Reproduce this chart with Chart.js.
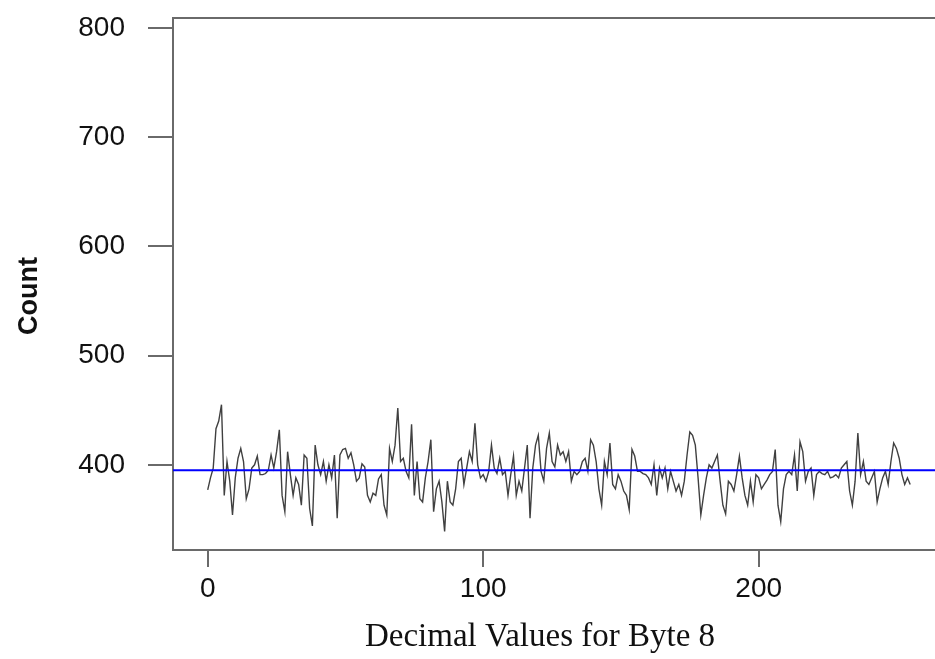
<!DOCTYPE html>
<html>
<head>
<meta charset="utf-8">
<script src="https://cdn.jsdelivr.net/npm/chart.js@4/dist/chart.umd.min.js"></script>
<style>
  html, body { margin: 0; padding: 0; background: #ffffff; }
  #c { display: block; }
</style>
</head>
<body>
<canvas id="c" width="935" height="659"></canvas>
<script>
// ---- data ----
const counts = [
  377,388,397,433,440,455,372,403,385,354,388,406,415,403,369,378,
  397,400,408,391,391,392,395,409,397,412,432,372,357,412,391,372,
  388,382,363,409,406,360,344,418,400,391,403,385,400,388,409,351,
  409,414,415,406,411,400,385,388,401,398,372,366,374,372,387,391,
  363,354,415,403,418,452,403,406,394,388,437,372,403,369,366,388,
  403,423,357,378,385,366,339,385,366,363,378,403,406,382,397,412,
  403,438,400,388,391,385,394,418,397,392,406,391,394,372,391,408,
  372,385,376,397,418,351,397,418,427,394,385,415,429,403,398,418,
  409,412,403,412,385,394,391,394,403,406,394,423,418,403,378,363,
  403,391,420,382,378,391,385,376,372,359,414,408,394,394,392,391,
  388,382,400,372,397,388,397,378,394,385,376,382,372,385,409,430,
  427,418,388,354,372,388,400,397,403,409,385,363,355,385,382,376,
  391,408,388,372,363,385,366,391,388,378,382,386,391,394,414,363,
  348,378,391,394,391,409,376,421,412,385,394,397,372,391,394,392,
  391,394,388,389,391,388,397,400,403,376,363,385,429,391,403,385,
  382,388,394,366,378,388,394,382,403,420,415,406,391,382,388,382
];
const meanCount = 395;
const xTicks = [0, 100, 200];
const yTicks = [400, 500, 600, 700, 800];
const xTitle = "Decimal Values for Byte 8";
const yTitle = "Count";

// ---- build datasets from the arrays ----
const linePoints = counts.map((v, i) => ({ x: i, y: v }));
const xMin = -12.6, xMax = 264;
const meanPoints = [{ x: xMin, y: meanCount }, { x: xMax, y: meanCount }];

const axisColor = '#6a6a6a';
const tickFont = { family: "'Liberation Sans', Arial, sans-serif", size: 28 };

const titlesPlugin = {
  id: 'titles',
  afterDraw(chart) {
    const ctx = chart.ctx;
    ctx.save();
    ctx.fillStyle = '#111';
    ctx.textAlign = 'center';
    ctx.textBaseline = 'middle';
    ctx.font = "33px 'Liberation Serif', 'Times New Roman', serif";
    ctx.fillText(xTitle, 540, 637);
    ctx.translate(30, 296);
    ctx.rotate(-Math.PI / 2);
    ctx.font = "bold 27px 'Liberation Sans', Arial, sans-serif";
    ctx.fillText(yTitle, 0, 0);
    ctx.restore();
  }
};

function noPad(s) {
  s.paddingTop = 0; s.paddingBottom = 0; s.paddingLeft = 0; s.paddingRight = 0;
}

new Chart(document.getElementById('c'), {
  type: 'line',
  data: {
    datasets: [
      {
        data: linePoints,
        borderColor: '#404040',
        borderWidth: 1.4,
        pointRadius: 0,
        tension: 0,
        xAxisID: 'x',
        yAxisID: 'y',
        order: 2
      },
      {
        data: meanPoints,
        borderColor: '#0000ff',
        borderWidth: 2,
        pointRadius: 0,
        tension: 0,
        xAxisID: 'x',
        yAxisID: 'y',
        order: 1
      }
    ]
  },
  options: {
    responsive: false,
    devicePixelRatio: 1,
    animation: false,
    layout: { padding: 0 },
    plugins: {
      legend: { display: false },
      tooltip: { enabled: false }
    },
    scales: {
      x: {
        type: 'linear',
        position: 'bottom',
        min: xMin,
        max: xMax,
        afterBuildTicks: (s) => { s.ticks = xTicks.map(v => ({ value: v })); },
        afterFit: (s) => { s.height = 109; noPad(s); },
        ticks: {
          font: tickFont,
          color: '#111',
          padding: 5,
          maxRotation: 0,
          autoSkip: false
        },
        grid: {
          drawOnChartArea: false,
          drawTicks: true,
          tickLength: 17,
          tickColor: axisColor,
          tickWidth: 2,
          lineWidth: 2,
          color: axisColor
        },
        border: { display: true, color: axisColor, width: 2 }
      },
      xTop: {
        type: 'linear',
        position: 'top',
        afterFit: (s) => { s.height = 18; noPad(s); },
        ticks: { display: false },
        grid: { display: false, drawTicks: false },
        border: { display: true, color: axisColor, width: 2 }
      },
      y: {
        type: 'linear',
        position: 'left',
        min: 322,
        max: 809,
        afterBuildTicks: (s) => { s.ticks = yTicks.map(v => ({ value: v })); },
        afterFit: (s) => { s.width = 173; noPad(s); },
        ticks: {
          font: tickFont,
          color: '#111',
          padding: 23,
          autoSkip: false
        },
        grid: {
          drawOnChartArea: false,
          drawTicks: true,
          tickLength: 25,
          tickColor: axisColor,
          tickWidth: 2,
          lineWidth: 2,
          color: axisColor
        },
        border: { display: true, color: axisColor, width: 2 }
      }
    }
  },
  plugins: [titlesPlugin]
});
</script>
</body>
</html>
